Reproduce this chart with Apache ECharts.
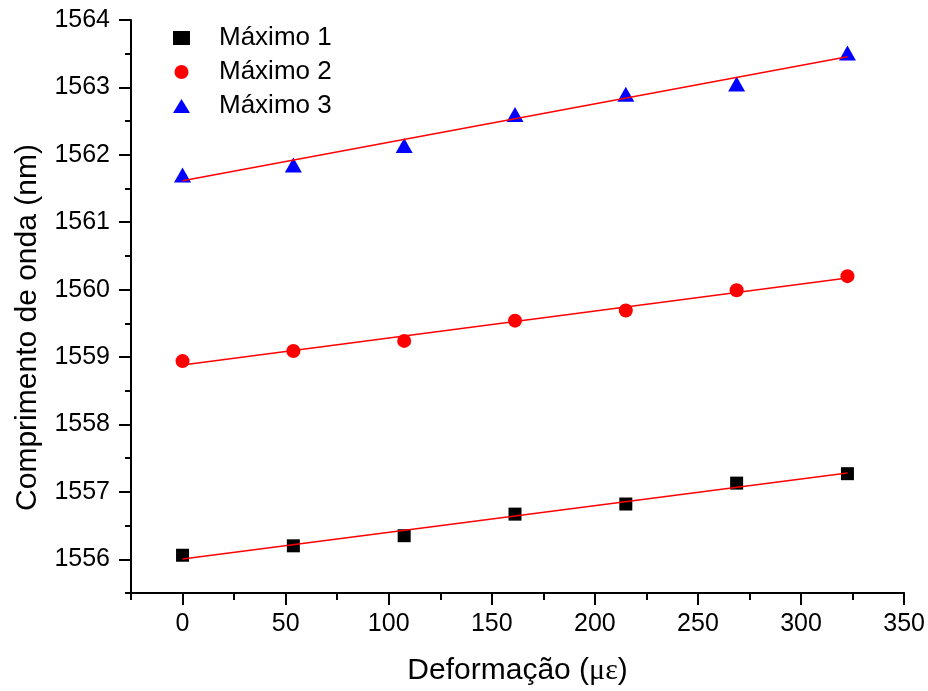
<!DOCTYPE html>
<html>
<head>
<meta charset="utf-8">
<script src="https://cdn.jsdelivr.net/npm/echarts@6/dist/echarts.min.js"></script>
<style>
  html, body { margin: 0; padding: 0; background: #fff; }
  #chart { width: 928px; height: 691px; }
</style>
</head>
<body>
<div id="chart"></div>
<script>
// Strain steps (microstrain) and peak wavelengths (nm) for the three maxima
const strain = [0, 53.75, 107.5, 161.25, 215, 268.75, 322.5];
const maximo1 = [1556.06, 1556.20, 1556.35, 1556.67, 1556.82, 1557.13, 1557.27];
const maximo2 = [1558.94, 1559.09, 1559.24, 1559.54, 1559.69, 1559.99, 1560.20];
const maximo3 = [1561.70, 1561.85, 1562.14, 1562.60, 1562.90, 1563.05, 1563.51];
const seriesNames = ['Máximo 1', 'Máximo 2', 'Máximo 3'];

// Axis ticks
const xMajorTicks = [0, 50, 100, 150, 200, 250, 300, 350];
const xMinorTicks = [-25, 25, 75, 125, 175, 225, 275, 325];
const yMajorTicks = [1556, 1557, 1558, 1559, 1560, 1561, 1562, 1563, 1564];
const yMinorTicks = [1555.5, 1556.5, 1557.5, 1558.5, 1559.5, 1560.5, 1561.5, 1562.5, 1563.5];

const FONT = "'Liberation Sans', Arial, sans-serif";

// Least-squares straight line through a set of points, evaluated at the first and last x
function linearFit(xs, ys) {
  const n = xs.length;
  const mx = xs.reduce((a, b) => a + b, 0) / n;
  const my = ys.reduce((a, b) => a + b, 0) / n;
  let sxy = 0, sxx = 0;
  for (let i = 0; i < n; i++) {
    sxy += (xs[i] - mx) * (ys[i] - my);
    sxx += (xs[i] - mx) * (xs[i] - mx);
  }
  const slope = sxy / sxx;
  const icpt = my - slope * mx;
  const x0 = xs[0], x1 = xs[n - 1];
  return [[x0, icpt + slope * x0], [x1, icpt + slope * x1]];
}

const pairs = ys => strain.map((x, i) => [x, ys[i]]);

const chart = echarts.init(document.getElementById('chart'), null, { renderer: 'canvas' });

chart.setOption({
  backgroundColor: '#fff',
  animation: false,
  textStyle: { fontFamily: FONT },
  grid: { left: 131, right: 21, top: 20, bottom: 98, containLabel: false },
  legend: {
    orient: 'vertical',
    left: 168,
    top: 20,
    itemWidth: 17,
    itemHeight: 14,
    itemGap: 8,
    data: seriesNames,
    textStyle: {
      fontFamily: FONT,
      fontSize: 26,
      color: '#000',
      lineHeight: 26,
      padding: [0, 0, 0, 24]
    }
  },
  xAxis: [
    {
      type: 'value',
      min: -25,
      max: 350,
      interval: 25,
      name: 'Deformação ({g|με})',
      nameLocation: 'middle',
      nameGap: 63,
      nameTextStyle: {
        fontFamily: FONT,
        fontSize: 30,
        color: '#000',
        rich: {
          g: { fontFamily: "'Liberation Serif', 'DejaVu Serif', serif", fontSize: 30, color: '#000' }
        }
      },
      axisLine: { show: true, onZero: false, lineStyle: { color: '#000', width: 2 } },
      axisTick: { show: true, inside: false, length: 7, lineStyle: { color: '#000', width: 2 },
                  customValues: xMinorTicks },
      axisLabel: { show: false },
      splitLine: { show: false }
    },
    {
      type: 'value',
      min: -25,
      max: 350,
      interval: 25,
      position: 'bottom',
      axisLine: { show: false, onZero: false },
      axisTick: { show: true, inside: false, length: 12, lineStyle: { color: '#000', width: 2 },
                  customValues: xMajorTicks },
      axisLabel: {
        show: true,
        customValues: xMajorTicks,
        formatter: v => String(v),
        margin: 19,
        fontFamily: FONT,
        fontSize: 25,
        color: '#000'
      },
      splitLine: { show: false }
    }
  ],
  yAxis: [
    {
      type: 'value',
      min: 1555.5,
      max: 1564,
      interval: 0.5,
      name: 'Comprimento de onda (nm)',
      nameLocation: 'middle',
      nameGap: 88,
      nameRotate: 90,
      nameTextStyle: {
        fontFamily: FONT,
        fontSize: 30,
        color: '#000',
        padding: [0, 42, 0, 0]
      },
      axisLine: { show: true, onZero: false, lineStyle: { color: '#000', width: 2 } },
      axisTick: { show: true, inside: false, length: 6, lineStyle: { color: '#000', width: 2 },
                  customValues: yMinorTicks },
      axisLabel: { show: false },
      splitLine: { show: false }
    },
    {
      type: 'value',
      min: 1555.5,
      max: 1564,
      interval: 0.5,
      position: 'left',
      offset: 0,
      axisLine: { show: false, onZero: false },
      axisTick: { show: true, inside: false, length: 12, lineStyle: { color: '#000', width: 2 },
                  customValues: yMajorTicks },
      axisLabel: {
        show: true,
        customValues: yMajorTicks,
        formatter: v => String(v),
        margin: 21,
        fontFamily: FONT,
        fontSize: 25,
        color: '#000'
      },
      splitLine: { show: false }
    }
  ],
  series: [
    {
      name: seriesNames[0], type: 'scatter', symbol: 'rect', symbolSize: 13,
      itemStyle: { color: '#000', opacity: 1 }, data: pairs(maximo1), z: 2
    },
    {
      name: seriesNames[1], type: 'scatter', symbol: 'circle', symbolSize: 14,
      itemStyle: { color: '#ff0000', opacity: 1 }, data: pairs(maximo2), z: 2
    },
    {
      name: seriesNames[2], type: 'scatter', symbol: 'triangle', symbolSize: [17, 15],
      itemStyle: { color: '#0000ff', opacity: 1 }, data: pairs(maximo3), z: 2
    },
    // Linear fits drawn over the markers
    ...[maximo1, maximo2, maximo3].map(ys => ({
      type: 'line',
      data: linearFit(strain, ys),
      showSymbol: false,
      symbol: 'none',
      lineStyle: { color: '#ff0000', width: 1.5 },
      z: 3,
      silent: true
    }))
  ]
});
</script>
</body>
</html>
